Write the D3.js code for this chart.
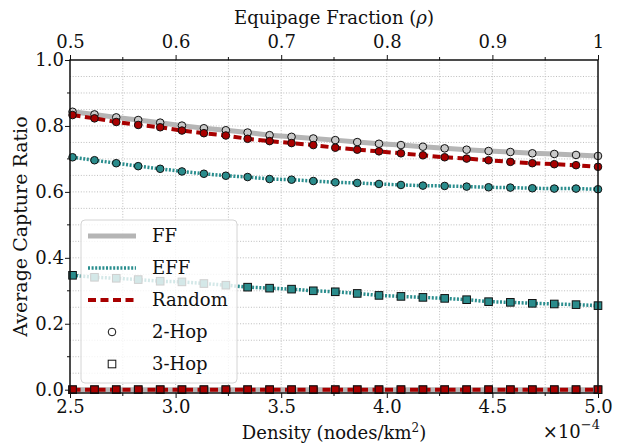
<!DOCTYPE html>
<html>
<head>
<meta charset="utf-8">
<script src="https://cdn.jsdelivr.net/npm/d3@7"></script>
<style>
  body { margin: 0; background: #fff; }
  svg text { font-family: "DejaVu Serif", "DejaVu Sans", serif; fill: #111; }
</style>
</head>
<body>
<div id="chart"></div>
<script>
// data
var density = [2.512, 2.616, 2.719, 2.823, 2.927, 3.030, 3.134, 3.238, 3.341, 3.445,
               3.549, 3.652, 3.756, 3.860, 3.963, 4.067, 4.171, 4.274, 4.378, 4.482,
               4.585, 4.689, 4.793, 4.896, 5.000];

var ff2 = [0.843, 0.835, 0.826, 0.818, 0.810, 0.801, 0.793, 0.787, 0.780, 0.772,
           0.767, 0.762, 0.757, 0.751, 0.746, 0.742, 0.737, 0.732, 0.728, 0.724,
           0.721, 0.717, 0.715, 0.712, 0.709];
var eff2 = [0.705, 0.696, 0.687, 0.678, 0.670, 0.662, 0.655, 0.649, 0.645, 0.639,
            0.637, 0.633, 0.629, 0.627, 0.624, 0.621, 0.619, 0.618, 0.616, 0.614,
            0.613, 0.611, 0.610, 0.610, 0.608];
var rnd2 = [0.833, 0.823, 0.812, 0.803, 0.796, 0.786, 0.778, 0.771, 0.761, 0.754,
            0.748, 0.742, 0.734, 0.728, 0.723, 0.717, 0.711, 0.705, 0.701, 0.696,
            0.691, 0.687, 0.684, 0.681, 0.676];
var ff3 = [0, 0, 0, 0, 0, 0, 0, 0, 0, 0, 0, 0, 0, 0, 0, 0, 0, 0, 0, 0, 0, 0, 0, 0, 0];
var eff3 = [0.347, 0.341, 0.338, 0.334, 0.329, 0.327, 0.322, 0.317, 0.311, 0.308,
            0.305, 0.300, 0.297, 0.292, 0.286, 0.283, 0.280, 0.277, 0.273, 0.267,
            0.265, 0.262, 0.260, 0.258, 0.255];
var rnd3 = [0, 0, 0, 0, 0, 0, 0, 0, 0, 0, 0, 0, 0, 0, 0, 0, 0, 0, 0, 0, 0, 0, 0, 0, 0];

var xTicks = [2.5, 3.0, 3.5, 4.0, 4.5, 5.0];
var topTicks = [0.5, 0.6, 0.7, 0.8, 0.9, 1.0];
var yTicks = [0.0, 0.2, 0.4, 0.6, 0.8, 1.0];

// chart dimensions
var W = 621, H = 443;
var pLeft = 70, pRight = 598, pTop = 60, pBottom = 393;
var serif = "'DejaVu Serif', 'DejaVu Sans', serif";

var x = d3.scaleLinear().domain([2.5, 5.0]).range([pLeft, pRight]),
    xTop = d3.scaleLinear().domain([0.5, 1.0]).range([pLeft, pRight]),
    y = d3.scaleLinear().domain([-0.01, 1.0]).range([pBottom, pTop]);

var svg = d3.select("#chart").append("svg")
    .attr("width", W)
    .attr("height", H);

// grid
var grid = svg.append("g").attr("class", "grid");
grid.selectAll("line.gx")
    .data(d3.range(2.75, 5.0, 0.25))
    .enter().append("line")
    .attr("x1", function(d) { return x(d); })
    .attr("x2", function(d) { return x(d); })
    .attr("y1", pTop).attr("y2", pBottom)
    .attr("stroke", "#bdbdbd").attr("stroke-width", 1)
    .attr("stroke-dasharray", "1,1.7");
grid.selectAll("line.gy")
    .data(d3.range(0.05, 1.0, 0.05))
    .enter().append("line")
    .attr("x1", pLeft).attr("x2", pRight)
    .attr("y1", function(d) { return y(d); })
    .attr("y2", function(d) { return y(d); })
    .attr("stroke", "#bdbdbd").attr("stroke-width", 1)
    .attr("stroke-dasharray", "1,1.7");

// series styles
var styles = {
  FF:     {stroke: "#b5b5b5", width: 5,   dash: null,    fill: "#c9c9c9"},
  EFF:    {stroke: "#2a8e8e", width: 3.5, dash: "2,1.6", fill: "#2a8c8c"},
  Random: {stroke: "#a80000", width: 4,   dash: "8,4.5", fill: "#a80000"}
};

var series = [
  {name: "FF", hop: 2, values: ff2},
  {name: "EFF", hop: 2, values: eff2},
  {name: "Random", hop: 2, values: rnd2},
  {name: "FF", hop: 3, values: ff3},
  {name: "EFF", hop: 3, values: eff3},
  {name: "Random", hop: 3, values: rnd3}
];

var line = d3.line()
    .x(function(d) { return x(d[0]); })
    .y(function(d) { return y(d[1]); });

var plot = svg.append("g").attr("class", "series");

series.forEach(function(s) {
  var st = styles[s.name];
  var pts = density.map(function(dv, i) { return [dv, s.values[i]]; });
  plot.append("path")
      .datum(pts)
      .attr("d", line)
      .attr("fill", "none")
      .attr("stroke", st.stroke)
      .attr("stroke-width", st.width)
      .attr("stroke-dasharray", st.dash);
  if (s.hop === 2) {
    plot.selectAll(null)
        .data(pts).enter().append("circle")
        .attr("cx", function(d) { return x(d[0]); })
        .attr("cy", function(d) { return y(d[1]); })
        .attr("r", 3.8)
        .attr("fill", st.fill)
        .attr("stroke", "#111").attr("stroke-width", 1);
  } else {
    plot.selectAll(null)
        .data(pts).enter().append("rect")
        .attr("x", function(d) { return x(d[0]) - 3.8; })
        .attr("y", function(d) { return y(d[1]) - 3.8; })
        .attr("width", 7.6).attr("height", 7.6)
        .attr("fill", st.fill)
        .attr("stroke", "#111").attr("stroke-width", 1);
  }
});

// axes
var fontSize = "18px";
var xAxis = d3.axisBottom(x).tickValues(xTicks).tickFormat(d3.format(".1f")).tickSize(5),
    xAxisTop = d3.axisTop(xTop).tickValues(topTicks)
        .tickFormat(function(d) { return d === 1 ? "1" : d3.format(".1f")(d); }).tickSize(5),
    yAxis = d3.axisLeft(y).tickValues(yTicks).tickFormat(d3.format(".1f")).tickSize(5);

function styleAxis(g) {
  g.select(".domain").remove();
  g.selectAll("line").attr("stroke", "#111").attr("stroke-width", 1);
  g.selectAll("text").style("font-size", fontSize)
      .style("font-family", serif).attr("fill", "#111");
}

svg.append("g").attr("transform", "translate(0," + pBottom + ")").call(xAxis).call(styleAxis)
    .selectAll("text").attr("y", 7).attr("dy", "0.71em");
svg.append("g").attr("transform", "translate(0," + pTop + ")").call(xAxisTop).call(styleAxis)
    .selectAll("text").attr("y", -12);
svg.append("g").attr("transform", "translate(" + pLeft + ",0)").call(yAxis).call(styleAxis)
    .selectAll("text").attr("x", -6);

// minor ticks
svg.append("g").selectAll("line")
    .data(d3.range(2.75, 5.0, 0.5))
    .enter().append("line")
    .attr("x1", function(d) { return x(d); }).attr("x2", function(d) { return x(d); })
    .attr("y1", pBottom).attr("y2", pBottom + 3)
    .attr("stroke", "#111");
svg.append("g").selectAll("line")
    .data(d3.range(0.55, 1.0, 0.1))
    .enter().append("line")
    .attr("x1", function(d) { return xTop(d); }).attr("x2", function(d) { return xTop(d); })
    .attr("y1", pTop).attr("y2", pTop - 3)
    .attr("stroke", "#111");
svg.append("g").selectAll("line")
    .data(d3.range(0.1, 1.0, 0.2))
    .enter().append("line")
    .attr("x1", pLeft).attr("x2", pLeft - 3)
    .attr("y1", function(d) { return y(d); }).attr("y2", function(d) { return y(d); })
    .attr("stroke", "#111");

// frame
svg.append("rect")
    .attr("x", pLeft).attr("y", pTop)
    .attr("width", pRight - pLeft).attr("height", pBottom - pTop)
    .attr("fill", "none").attr("stroke", "#111").attr("stroke-width", 1.5);

// labels
svg.append("text")
    .attr("x", (pLeft + pRight) / 2).attr("y", 439)
    .attr("text-anchor", "middle").style("font-size", fontSize)
    .html("Density (nodes/km<tspan dy='-7' style='font-size:12px'>2</tspan><tspan dy='7'>)</tspan>");

svg.append("text")
    .attr("x", pRight + 2).attr("y", 438)
    .attr("text-anchor", "end").style("font-size", fontSize)
    .html("×10<tspan dy='-9' style='font-size:13px'>−4</tspan>");

svg.append("text")
    .attr("x", (pLeft + pRight) / 2).attr("y", 24)
    .attr("text-anchor", "middle").style("font-size", fontSize)
    .html("Equipage Fraction (<tspan style='font-style:italic'>ρ</tspan>)");

svg.append("text")
    .attr("transform", "translate(27," + ((pTop + pBottom) / 2) + ") rotate(-90)")
    .attr("text-anchor", "middle").style("font-size", "19px")
    .text("Average Capture Ratio");

// legend
var legend = svg.append("g").attr("class", "legend");
legend.append("rect")
    .attr("x", 81).attr("y", 220).attr("width", 156).attr("height", 163)
    .attr("rx", 4)
    .attr("fill", "#fff").attr("fill-opacity", 0.8)
    .attr("stroke", "#d4d4d4").attr("stroke-width", 1);

var legendItems = [
  {label: "FF", type: "line", key: "FF"},
  {label: "EFF", type: "line", key: "EFF"},
  {label: "Random", type: "line", key: "Random"},
  {label: "2-Hop", type: "circle"},
  {label: "3-Hop", type: "square"}
];

legendItems.forEach(function(d, i) {
  var ly = 236 + i * 32;
  if (d.type === "line") {
    var st = styles[d.key];
    legend.append("line")
        .attr("x1", 88).attr("x2", 136).attr("y1", ly).attr("y2", ly)
        .attr("stroke", st.stroke).attr("stroke-width", st.width)
        .attr("stroke-dasharray", st.dash);
  } else if (d.type === "circle") {
    legend.append("circle")
        .attr("cx", 112).attr("cy", ly).attr("r", 3.8)
        .attr("fill", "#fff").attr("stroke", "#111");
  } else {
    legend.append("rect")
        .attr("x", 108.2).attr("y", ly - 3.8).attr("width", 7.6).attr("height", 7.6)
        .attr("fill", "#fff").attr("stroke", "#111");
  }
  legend.append("text")
      .attr("x", 152).attr("y", ly).attr("dy", "0.35em")
      .style("font-size", fontSize)
      .text(d.label);
});
</script>
</body>
</html>
